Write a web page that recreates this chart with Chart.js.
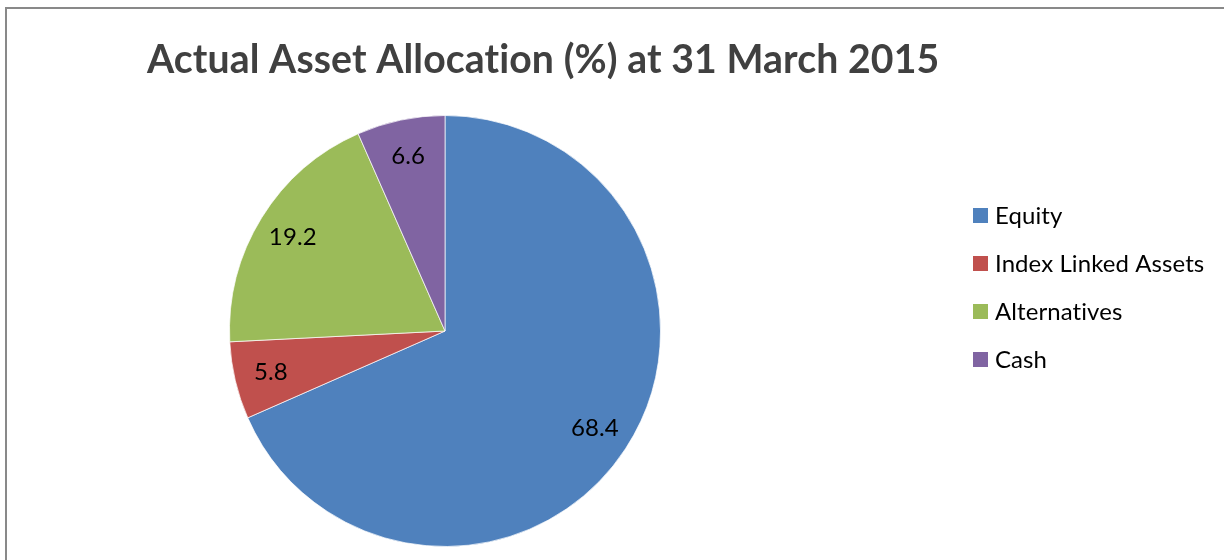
<!DOCTYPE html>
<html>
<head>
<meta charset="utf-8">
<title>Actual Asset Allocation</title>
<script src="https://cdn.jsdelivr.net/npm/chart.js@4/dist/chart.umd.min.js"></script>
<style>
    html, body { margin: 0; padding: 0; background: #fff; overflow: hidden; }
    #frame {
        position: absolute; left: 5px; top: 7px;
        width: 1400px; height: 800px;
        border: 2px solid #898989;
    }
    #chart { position: absolute; left: 0; top: 0; }
</style>
</head>
<body>
<div id="frame"></div>
<canvas id="chart" width="1224" height="560"></canvas>
<script>
// Chart data
const titleText = "Actual Asset Allocation (%) at 31 March 2015";
const categories = ["Equity", "Index Linked Assets", "Alternatives", "Cash"];
const allocation = [68.4, 5.8, 19.2, 6.6];
const sliceColors = ["#4F81BD", "#C0504D", "#9BBB59", "#8064A2"];

const FONT = "Lato, 'Open Sans', sans-serif";

// font size so that text spans the given width
function fitFont(ctx, text, weight, targetWidth) {
    ctx.font = `${weight} 100px ${FONT}`;
    const w = ctx.measureText(text).width;
    return 100 * targetWidth / w;
}

// Title, legend and slice labels drawn on top of the pie
const decorPlugin = {
    id: "decor",
    afterDraw(chart) {
        const ctx = chart.ctx;
        ctx.save();
        // no "ti" ligatures, like the original
        ctx.letterSpacing = "0.1px";

        // title
        const titleSize = fitFont(ctx, titleText, "bold", 790);
        ctx.font = `bold ${titleSize}px ${FONT}`;
        ctx.fillStyle = "#404040";
        ctx.textAlign = "left";
        ctx.textBaseline = "alphabetic";
        ctx.fillText(titleText, 147, 73);

        // slice value labels
        const meta = chart.getDatasetMeta(0);
        ctx.font = `24px ${FONT}`;
        ctx.fillStyle = "#000";
        ctx.textAlign = "center";
        ctx.textBaseline = "middle";
        meta.data.forEach((arc, i) => {
            const p = arc.getProps(["x", "y", "startAngle", "endAngle", "outerRadius"], true);
            const mid = (p.startAngle + p.endAngle) / 2;
            const r = p.outerRadius * 0.83;
            ctx.fillText(allocation[i].toFixed(1), p.x + Math.cos(mid) * r, p.y + Math.sin(mid) * r);
        });

        // legend
        const legendSize = fitFont(ctx, "Index Linked Assets", "normal", 208);
        ctx.font = `${legendSize}px ${FONT}`;
        ctx.textAlign = "left";
        categories.forEach((name, i) => {
            const cy = 215.5 + i * 48;
            ctx.fillStyle = sliceColors[i];
            ctx.fillRect(973, cy - 7.5, 15, 15);
            ctx.fillStyle = "#000";
            ctx.fillText(name, 995, cy + 1);
        });

        ctx.restore();
    }
};

new Chart(document.getElementById("chart"), {
    type: "pie",
    data: {
        labels: categories,
        datasets: [{
            data: allocation,
            backgroundColor: sliceColors,
            borderColor: "rgba(255,255,255,0.7)",
            borderWidth: 1
        }]
    },
    options: {
        responsive: false,
        devicePixelRatio: 1,
        animation: false,
        layout: { padding: { left: 229, right: 563, top: 115, bottom: 13 } },
        plugins: {
            legend: { display: false },
            title: { display: false },
            tooltip: { enabled: false }
        }
    },
    plugins: [decorPlugin]
});
</script>
</body>
</html>
